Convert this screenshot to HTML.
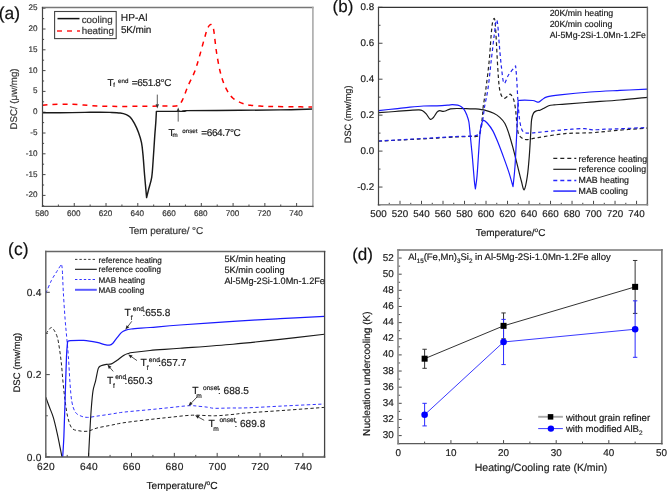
<!DOCTYPE html>
<html><head><meta charset="utf-8"><title>DSC figure</title>
<style>html,body{margin:0;padding:0;background:#fff;}body{width:667px;height:491px;overflow:hidden;font-family:"Liberation Sans", sans-serif;}svg{display:block;filter:blur(0.3px);text-rendering:geometricPrecision;}</style>
</head><body>
<svg width="667" height="491" viewBox="0 0 667 491" font-family='"Liberation Sans", sans-serif'>
<rect width="667" height="491" fill="#fff"/>
<clipPath id="ca"><rect x="42.5" y="7.5" width="270.0" height="199.0"/></clipPath>
<line x1="42.5" y1="206.5" x2="42.5" y2="203" stroke="#333" stroke-width="0.9"/>
<line x1="58.38" y1="206.5" x2="58.38" y2="204.5" stroke="#333" stroke-width="0.9"/>
<line x1="74.26" y1="206.5" x2="74.26" y2="203" stroke="#333" stroke-width="0.9"/>
<line x1="90.15" y1="206.5" x2="90.15" y2="204.5" stroke="#333" stroke-width="0.9"/>
<line x1="106.03" y1="206.5" x2="106.03" y2="203" stroke="#333" stroke-width="0.9"/>
<line x1="121.91" y1="206.5" x2="121.91" y2="204.5" stroke="#333" stroke-width="0.9"/>
<line x1="137.79" y1="206.5" x2="137.79" y2="203" stroke="#333" stroke-width="0.9"/>
<line x1="153.68" y1="206.5" x2="153.68" y2="204.5" stroke="#333" stroke-width="0.9"/>
<line x1="169.56" y1="206.5" x2="169.56" y2="203" stroke="#333" stroke-width="0.9"/>
<line x1="185.44" y1="206.5" x2="185.44" y2="204.5" stroke="#333" stroke-width="0.9"/>
<line x1="201.32" y1="206.5" x2="201.32" y2="203" stroke="#333" stroke-width="0.9"/>
<line x1="217.21" y1="206.5" x2="217.21" y2="204.5" stroke="#333" stroke-width="0.9"/>
<line x1="233.09" y1="206.5" x2="233.09" y2="203" stroke="#333" stroke-width="0.9"/>
<line x1="248.97" y1="206.5" x2="248.97" y2="204.5" stroke="#333" stroke-width="0.9"/>
<line x1="264.85" y1="206.5" x2="264.85" y2="203" stroke="#333" stroke-width="0.9"/>
<line x1="280.74" y1="206.5" x2="280.74" y2="204.5" stroke="#333" stroke-width="0.9"/>
<line x1="296.62" y1="206.5" x2="296.62" y2="203" stroke="#333" stroke-width="0.9"/>
<line x1="312.5" y1="206.5" x2="312.5" y2="204.5" stroke="#333" stroke-width="0.9"/>
<line x1="42.5" y1="205.8" x2="44.1" y2="205.8" stroke="#333" stroke-width="0.9"/>
<line x1="42.5" y1="195.4" x2="45.5" y2="195.4" stroke="#333" stroke-width="0.9"/>
<line x1="42.5" y1="185" x2="44.1" y2="185" stroke="#333" stroke-width="0.9"/>
<line x1="42.5" y1="174.6" x2="45.5" y2="174.6" stroke="#333" stroke-width="0.9"/>
<line x1="42.5" y1="164.2" x2="44.1" y2="164.2" stroke="#333" stroke-width="0.9"/>
<line x1="42.5" y1="153.8" x2="45.5" y2="153.8" stroke="#333" stroke-width="0.9"/>
<line x1="42.5" y1="143.4" x2="44.1" y2="143.4" stroke="#333" stroke-width="0.9"/>
<line x1="42.5" y1="133" x2="45.5" y2="133" stroke="#333" stroke-width="0.9"/>
<line x1="42.5" y1="122.6" x2="44.1" y2="122.6" stroke="#333" stroke-width="0.9"/>
<line x1="42.5" y1="112.2" x2="45.5" y2="112.2" stroke="#333" stroke-width="0.9"/>
<line x1="42.5" y1="101.8" x2="44.1" y2="101.8" stroke="#333" stroke-width="0.9"/>
<line x1="42.5" y1="91.4" x2="45.5" y2="91.4" stroke="#333" stroke-width="0.9"/>
<line x1="42.5" y1="81" x2="44.1" y2="81" stroke="#333" stroke-width="0.9"/>
<line x1="42.5" y1="70.6" x2="45.5" y2="70.6" stroke="#333" stroke-width="0.9"/>
<line x1="42.5" y1="60.2" x2="44.1" y2="60.2" stroke="#333" stroke-width="0.9"/>
<line x1="42.5" y1="49.8" x2="45.5" y2="49.8" stroke="#333" stroke-width="0.9"/>
<line x1="42.5" y1="39.4" x2="44.1" y2="39.4" stroke="#333" stroke-width="0.9"/>
<line x1="42.5" y1="29" x2="45.5" y2="29" stroke="#333" stroke-width="0.9"/>
<line x1="42.5" y1="18.6" x2="44.1" y2="18.6" stroke="#333" stroke-width="0.9"/>
<line x1="42.5" y1="8.2" x2="45.5" y2="8.2" stroke="#333" stroke-width="0.9"/>
<text x="42" y="216.4" font-size="8.1" text-anchor="middle" fill="#333"  stroke="#333" stroke-width="0.18">580</text>
<text x="73.76" y="216.4" font-size="8.1" text-anchor="middle" fill="#333"  stroke="#333" stroke-width="0.18">600</text>
<text x="105.53" y="216.4" font-size="8.1" text-anchor="middle" fill="#333"  stroke="#333" stroke-width="0.18">620</text>
<text x="137.29" y="216.4" font-size="8.1" text-anchor="middle" fill="#333"  stroke="#333" stroke-width="0.18">640</text>
<text x="169.06" y="216.4" font-size="8.1" text-anchor="middle" fill="#333"  stroke="#333" stroke-width="0.18">660</text>
<text x="200.82" y="216.4" font-size="8.1" text-anchor="middle" fill="#333"  stroke="#333" stroke-width="0.18">680</text>
<text x="232.59" y="216.4" font-size="8.1" text-anchor="middle" fill="#333"  stroke="#333" stroke-width="0.18">700</text>
<text x="264.35" y="216.4" font-size="8.1" text-anchor="middle" fill="#333"  stroke="#333" stroke-width="0.18">720</text>
<text x="296.12" y="216.4" font-size="8.1" text-anchor="middle" fill="#333"  stroke="#333" stroke-width="0.18">740</text>
<text x="37.4" y="197.45" font-size="8.1" text-anchor="end" fill="#333"  stroke="#333" stroke-width="0.18">-20</text>
<text x="37.4" y="176.65" font-size="8.1" text-anchor="end" fill="#333"  stroke="#333" stroke-width="0.18">-15</text>
<text x="37.4" y="155.85" font-size="8.1" text-anchor="end" fill="#333"  stroke="#333" stroke-width="0.18">-10</text>
<text x="37.4" y="135.05" font-size="8.1" text-anchor="end" fill="#333"  stroke="#333" stroke-width="0.18">-5</text>
<text x="37.4" y="114.25" font-size="8.1" text-anchor="end" fill="#333"  stroke="#333" stroke-width="0.18">0</text>
<text x="37.4" y="93.45" font-size="8.1" text-anchor="end" fill="#333"  stroke="#333" stroke-width="0.18">5</text>
<text x="37.4" y="72.65" font-size="8.1" text-anchor="end" fill="#333"  stroke="#333" stroke-width="0.18">10</text>
<text x="37.4" y="51.85" font-size="8.1" text-anchor="end" fill="#333"  stroke="#333" stroke-width="0.18">15</text>
<text x="37.4" y="31.05" font-size="8.1" text-anchor="end" fill="#333"  stroke="#333" stroke-width="0.18">20</text>
<text x="37.4" y="10.25" font-size="8.1" text-anchor="end" fill="#333"  stroke="#333" stroke-width="0.18">25</text>
<path d="M42.5,112.8 C45.42,112.8 52.92,112.87 60,112.8 C67.08,112.73 78.33,112.5 85,112.4 C91.67,112.3 95.83,112.2 100,112.2 C104.17,112.2 106.63,112.27 110,112.4 C113.37,112.53 117.48,112.63 120.2,113 C122.92,113.37 124.62,113.88 126.3,114.6 C127.98,115.32 128.95,115.83 130.3,117.3 C131.65,118.77 133.03,120.87 134.4,123.4 C135.77,125.93 137.32,129.28 138.5,132.5 C139.68,135.72 140.75,138.97 141.5,142.7 C142.25,146.43 142.48,149.48 143,154.9 C143.52,160.32 144,168.08 144.6,175.2 C145.2,182.32 146.27,193.87 146.6,197.6 L146.6,197.6 C146.93,196.25 147.75,192.88 148.6,189.5 C149.45,186.12 150.95,182.05 151.7,177.3 C152.45,172.55 152.6,167.78 153.1,161 C153.6,154.22 154.25,143.03 154.7,136.6 C155.15,130.17 155.52,126.6 155.8,122.4 C156.08,118.2 156.3,113.23 156.4,111.4 L156.4,111.4 C161.08,111.37 179.57,111.33 184.5,111.2 C189.43,111.07 176.75,110.75 186,110.6 C195.25,110.45 224.33,110.42 240,110.3 C255.67,110.18 267.92,110.12 280,109.9 C292.08,109.68 307.08,109.15 312.5,109" fill="none" stroke="#1a1a1a" stroke-width="1.45" clip-path="url(#ca)" stroke-linejoin="round" />
<path d="M42.5,105.3 C44.08,105.17 48.42,104.68 52,104.5 C55.58,104.32 60.5,104.25 64,104.2 C67.5,104.15 69.75,104.07 73,104.2 C76.25,104.33 80.25,104.75 83.5,105 C86.75,105.25 89,105.5 92.5,105.7 C96,105.9 99.92,106.08 104.5,106.2 C109.08,106.32 114.08,106.38 120,106.4 C125.92,106.42 133.33,106.35 140,106.3 C146.67,106.25 154,106.15 160,106.1 C166,106.05 172.83,106.27 176,106 C179.17,105.73 177.93,105.47 179,104.5 C180.07,103.53 180.9,103.28 182.4,100.2 C183.9,97.12 186,90.65 188,86 C190,81.35 192.57,76.97 194.4,72.3 C196.23,67.63 197.37,63.5 199,58 C200.63,52.5 202.78,44.22 204.2,39.3 C205.62,34.38 206.48,30.95 207.5,28.5 C208.52,26.05 209.45,25.05 210.3,24.6 C211.15,24.15 211.98,24.57 212.6,25.8 C213.22,27.03 213.37,27.72 214,32 C214.63,36.28 215.4,45 216.4,51.5 C217.4,58 218.73,65.58 220,71 C221.27,76.42 222.57,80.33 224,84 C225.43,87.67 227.1,90.62 228.6,93 C230.1,95.38 231.37,96.87 233,98.3 C234.63,99.73 236.57,100.68 238.4,101.6 C240.23,102.52 241.97,103.18 244,103.8 C246.03,104.42 247.6,104.9 250.6,105.3 C253.6,105.7 257.93,106 262,106.2 C266.07,106.4 269.5,106.4 275,106.5 C280.5,106.6 288.75,106.72 295,106.8 C301.25,106.88 309.58,106.97 312.5,107" fill="none" stroke="#ff0000" stroke-width="1.5" stroke-dasharray="5,5" clip-path="url(#ca)" stroke-linejoin="round" />
<line x1="42.5" y1="7.5" x2="312.9" y2="7.5" stroke="#777" stroke-width="1.3" stroke-linecap="square"/>
<line x1="312.9" y1="7.5" x2="312.9" y2="206.4" stroke="#aaa" stroke-width="1.6" stroke-linecap="square"/>
<line x1="42.5" y1="206.4" x2="312.9" y2="206.4" stroke="#555" stroke-width="1.3" stroke-linecap="square"/>
<line x1="42.5" y1="7.5" x2="42.5" y2="206.4" stroke="#444" stroke-width="1.2" stroke-linecap="square"/>
<rect x="54.6" y="11.5" width="61.6" height="27.1" fill="none" stroke="#444" stroke-width="1.1"/>
<line x1="57.5" y1="18.6" x2="79.5" y2="18.6" stroke="#111" stroke-width="1.5"/>
<line x1="57" y1="31.1" x2="80" y2="31.1" stroke="#ff2020" stroke-width="1.5" stroke-dasharray="5,5"/>
<text x="81.7" y="22.6" font-size="9.8" text-anchor="start" fill="#333"  stroke="#333" stroke-width="0.18">cooling</text>
<text x="81.7" y="33.5" font-size="9.8" text-anchor="start" fill="#333"  stroke="#333" stroke-width="0.18">heating</text>
<text x="120.8" y="20.8" font-size="10.2" text-anchor="start" fill="#222"  stroke="#222" stroke-width="0.18">HP-Al</text>
<text x="120.9" y="32.8" font-size="10" text-anchor="start" fill="#222" letter-spacing="-0.15"  stroke="#222" stroke-width="0.18">5K/min</text>
<text x="107.6" y="85.6" font-size="10" text-anchor="start" fill="#1a1a1a"  stroke="#1a1a1a" stroke-width="0.18">T</text>
<text x="113.2" y="86.8" font-size="6" text-anchor="start" fill="#1a1a1a"  stroke="#1a1a1a" stroke-width="0.18">f</text>
<text x="118" y="82.8" font-size="6.2" text-anchor="start" fill="#1a1a1a"  stroke="#1a1a1a" stroke-width="0.18">end</text>
<text x="131.8" y="85.6" font-size="10" text-anchor="start" fill="#1a1a1a" letter-spacing="-0.35"  stroke="#1a1a1a" stroke-width="0.18">=651.8°C</text>
<line x1="157.3" y1="94.6" x2="157.3" y2="104.3" stroke="#333" stroke-width="0.8"/>
<path d="M157.3,108.5 L155.6,104.3 L159,104.3 Z" fill="#333"/>
<text x="168.4" y="135.9" font-size="10" text-anchor="start" fill="#1a1a1a"  stroke="#1a1a1a" stroke-width="0.18">T</text>
<text x="172.6" y="137.4" font-size="6.2" text-anchor="start" fill="#1a1a1a"  stroke="#1a1a1a" stroke-width="0.18">m</text>
<text x="182.3" y="132.6" font-size="6.2" text-anchor="start" fill="#1a1a1a"  stroke="#1a1a1a" stroke-width="0.18">onset</text>
<text x="201.2" y="135.9" font-size="10" text-anchor="start" fill="#1a1a1a" letter-spacing="-0.35"  stroke="#1a1a1a" stroke-width="0.18">=664.7°C</text>
<line x1="178.2" y1="121.6" x2="178.2" y2="111.6" stroke="#333" stroke-width="0.8"/>
<path d="M178.2,107.4 L179.9,111.6 L176.5,111.6 Z" fill="#333"/>
<text x="-1.2" y="19.2" font-size="17.4" text-anchor="start" fill="#111"  stroke="#111" stroke-width="0.18">(a)</text>
<text transform="translate(16.6,99) rotate(-90)" font-size="9.7" text-anchor="middle" fill="#333" stroke="#333" stroke-width="0.18">DSC/ (μw/mg)</text>
<text x="166" y="234.1" font-size="10" text-anchor="middle" fill="#333" letter-spacing="-0.1"  stroke="#333" stroke-width="0.18">Tem perature/ °C</text>
<clipPath id="cb"><rect x="378.5" y="7.4" width="268.79999999999995" height="197.4"/></clipPath>
<line x1="378.5" y1="204.8" x2="378.5" y2="200.8" stroke="#333" stroke-width="0.9"/>
<line x1="389.25" y1="204.8" x2="389.25" y2="202.8" stroke="#333" stroke-width="0.9"/>
<line x1="400" y1="204.8" x2="400" y2="200.8" stroke="#333" stroke-width="0.9"/>
<line x1="410.76" y1="204.8" x2="410.76" y2="202.8" stroke="#333" stroke-width="0.9"/>
<line x1="421.51" y1="204.8" x2="421.51" y2="200.8" stroke="#333" stroke-width="0.9"/>
<line x1="432.26" y1="204.8" x2="432.26" y2="202.8" stroke="#333" stroke-width="0.9"/>
<line x1="443.01" y1="204.8" x2="443.01" y2="200.8" stroke="#333" stroke-width="0.9"/>
<line x1="453.76" y1="204.8" x2="453.76" y2="202.8" stroke="#333" stroke-width="0.9"/>
<line x1="464.52" y1="204.8" x2="464.52" y2="200.8" stroke="#333" stroke-width="0.9"/>
<line x1="475.27" y1="204.8" x2="475.27" y2="202.8" stroke="#333" stroke-width="0.9"/>
<line x1="486.02" y1="204.8" x2="486.02" y2="200.8" stroke="#333" stroke-width="0.9"/>
<line x1="496.77" y1="204.8" x2="496.77" y2="202.8" stroke="#333" stroke-width="0.9"/>
<line x1="507.52" y1="204.8" x2="507.52" y2="200.8" stroke="#333" stroke-width="0.9"/>
<line x1="518.28" y1="204.8" x2="518.28" y2="202.8" stroke="#333" stroke-width="0.9"/>
<line x1="529.03" y1="204.8" x2="529.03" y2="200.8" stroke="#333" stroke-width="0.9"/>
<line x1="539.78" y1="204.8" x2="539.78" y2="202.8" stroke="#333" stroke-width="0.9"/>
<line x1="550.53" y1="204.8" x2="550.53" y2="200.8" stroke="#333" stroke-width="0.9"/>
<line x1="561.28" y1="204.8" x2="561.28" y2="202.8" stroke="#333" stroke-width="0.9"/>
<line x1="572.04" y1="204.8" x2="572.04" y2="200.8" stroke="#333" stroke-width="0.9"/>
<line x1="582.79" y1="204.8" x2="582.79" y2="202.8" stroke="#333" stroke-width="0.9"/>
<line x1="593.54" y1="204.8" x2="593.54" y2="200.8" stroke="#333" stroke-width="0.9"/>
<line x1="604.29" y1="204.8" x2="604.29" y2="202.8" stroke="#333" stroke-width="0.9"/>
<line x1="615.04" y1="204.8" x2="615.04" y2="200.8" stroke="#333" stroke-width="0.9"/>
<line x1="625.8" y1="204.8" x2="625.8" y2="202.8" stroke="#333" stroke-width="0.9"/>
<line x1="636.55" y1="204.8" x2="636.55" y2="200.8" stroke="#333" stroke-width="0.9"/>
<line x1="647.3" y1="204.8" x2="647.3" y2="202.8" stroke="#333" stroke-width="0.9"/>
<line x1="378.5" y1="205.03" x2="380.5" y2="205.03" stroke="#333" stroke-width="0.9"/>
<line x1="378.5" y1="187.05" x2="382.5" y2="187.05" stroke="#333" stroke-width="0.9"/>
<line x1="378.5" y1="169.07" x2="380.5" y2="169.07" stroke="#333" stroke-width="0.9"/>
<line x1="378.5" y1="151.1" x2="382.5" y2="151.1" stroke="#333" stroke-width="0.9"/>
<line x1="378.5" y1="133.12" x2="380.5" y2="133.12" stroke="#333" stroke-width="0.9"/>
<line x1="378.5" y1="115.15" x2="382.5" y2="115.15" stroke="#333" stroke-width="0.9"/>
<line x1="378.5" y1="97.17" x2="380.5" y2="97.17" stroke="#333" stroke-width="0.9"/>
<line x1="378.5" y1="79.2" x2="382.5" y2="79.2" stroke="#333" stroke-width="0.9"/>
<line x1="378.5" y1="61.22" x2="380.5" y2="61.22" stroke="#333" stroke-width="0.9"/>
<line x1="378.5" y1="43.25" x2="382.5" y2="43.25" stroke="#333" stroke-width="0.9"/>
<line x1="378.5" y1="25.27" x2="380.5" y2="25.27" stroke="#333" stroke-width="0.9"/>
<line x1="378.5" y1="7.3" x2="382.5" y2="7.3" stroke="#333" stroke-width="0.9"/>
<text x="378.5" y="217" font-size="9.8" text-anchor="middle" fill="#1a1a1a"  stroke="#1a1a1a" stroke-width="0.18">500</text>
<text x="400" y="217" font-size="9.8" text-anchor="middle" fill="#1a1a1a"  stroke="#1a1a1a" stroke-width="0.18">520</text>
<text x="421.51" y="217" font-size="9.8" text-anchor="middle" fill="#1a1a1a"  stroke="#1a1a1a" stroke-width="0.18">540</text>
<text x="443.01" y="217" font-size="9.8" text-anchor="middle" fill="#1a1a1a"  stroke="#1a1a1a" stroke-width="0.18">560</text>
<text x="464.52" y="217" font-size="9.8" text-anchor="middle" fill="#1a1a1a"  stroke="#1a1a1a" stroke-width="0.18">580</text>
<text x="486.02" y="217" font-size="9.8" text-anchor="middle" fill="#1a1a1a"  stroke="#1a1a1a" stroke-width="0.18">600</text>
<text x="507.52" y="217" font-size="9.8" text-anchor="middle" fill="#1a1a1a"  stroke="#1a1a1a" stroke-width="0.18">620</text>
<text x="529.03" y="217" font-size="9.8" text-anchor="middle" fill="#1a1a1a"  stroke="#1a1a1a" stroke-width="0.18">640</text>
<text x="550.53" y="217" font-size="9.8" text-anchor="middle" fill="#1a1a1a"  stroke="#1a1a1a" stroke-width="0.18">660</text>
<text x="572.04" y="217" font-size="9.8" text-anchor="middle" fill="#1a1a1a"  stroke="#1a1a1a" stroke-width="0.18">680</text>
<text x="593.54" y="217" font-size="9.8" text-anchor="middle" fill="#1a1a1a"  stroke="#1a1a1a" stroke-width="0.18">700</text>
<text x="615.04" y="217" font-size="9.8" text-anchor="middle" fill="#1a1a1a"  stroke="#1a1a1a" stroke-width="0.18">720</text>
<text x="636.55" y="217" font-size="9.8" text-anchor="middle" fill="#1a1a1a"  stroke="#1a1a1a" stroke-width="0.18">740</text>
<text x="374.2" y="9.95" font-size="9.8" text-anchor="end" fill="#1a1a1a"  stroke="#1a1a1a" stroke-width="0.18">0.8</text>
<text x="374.2" y="45.9" font-size="9.8" text-anchor="end" fill="#1a1a1a"  stroke="#1a1a1a" stroke-width="0.18">0.6</text>
<text x="374.2" y="81.85" font-size="9.8" text-anchor="end" fill="#1a1a1a"  stroke="#1a1a1a" stroke-width="0.18">0.4</text>
<text x="374.2" y="117.8" font-size="9.8" text-anchor="end" fill="#1a1a1a"  stroke="#1a1a1a" stroke-width="0.18">0.2</text>
<text x="374.2" y="153.75" font-size="9.8" text-anchor="end" fill="#1a1a1a"  stroke="#1a1a1a" stroke-width="0.18">0.0</text>
<text x="374.2" y="189.7" font-size="9.8" text-anchor="end" fill="#1a1a1a"  stroke="#1a1a1a" stroke-width="0.18">-0.2</text>
<path d="M378.5,141.2 C382.08,141 391.83,140.43 400,140 C408.17,139.57 418.33,139.1 427.5,138.6 C436.67,138.1 447.92,137.37 455,137 C462.08,136.63 466.27,136.53 470,136.4 C473.73,136.27 475.67,137 477.4,136.2 C479.13,135.4 479.55,135.07 480.4,131.6 C481.25,128.13 482.05,119.4 482.5,115.4 C482.95,111.4 482.5,112.3 483.1,107.6 C483.7,102.9 485.08,95 486.1,87.2 C487.12,79.4 488.35,69.6 489.2,60.8 C490.05,52 490.63,40.83 491.2,34.4 C491.77,27.97 492.08,24.85 492.6,22.2 C493.12,19.55 493.85,18.17 494.3,18.5 C494.75,18.83 494.97,20.53 495.3,24.2 C495.63,27.87 495.9,33.38 496.3,40.5 C496.7,47.62 497.2,59.12 497.7,66.9 C498.2,74.68 498.68,82.45 499.3,87.2 C499.92,91.95 500.55,93.53 501.4,95.4 C502.25,97.27 503.22,98.4 504.4,98.4 C505.58,98.4 507.48,96.08 508.5,95.4 C509.52,94.72 509.65,93.63 510.5,94.3 C511.35,94.97 512.75,96.82 513.6,99.4 C514.45,101.98 515.12,106.42 515.6,109.8 C516.08,113.18 516.07,115.83 516.5,119.7 C516.93,123.57 517.25,129.9 518.2,133 C519.15,136.1 520.65,137.2 522.2,138.3 C523.75,139.4 524.85,139.72 527.5,139.6 C530.15,139.48 531.85,138.6 538.1,137.6 C544.35,136.6 555.92,134.42 565,133.6 C574.08,132.78 583.93,133.25 592.6,132.7 C601.27,132.15 608.32,131.03 617,130.3 C625.68,129.57 639.65,128.67 644.7,128.3 C649.75,127.93 646.87,128.13 647.3,128.1" fill="none" stroke="#222" stroke-width="1.2" stroke-dasharray="3.6,2.8" clip-path="url(#cb)" stroke-linejoin="round" />
<path d="M378.5,112.7 C381.25,112.5 389.75,111.9 395,111.5 C400.25,111.1 406,110.58 410,110.3 C414,110.02 416.9,109.73 419,109.8 C421.1,109.87 421.4,110.02 422.6,110.7 C423.8,111.38 424.93,112.47 426.2,113.9 C427.47,115.33 429,118.7 430.2,119.3 C431.4,119.9 432.27,118.7 433.4,117.5 C434.53,116.3 435.95,113.23 437,112.1 C438.05,110.97 438.65,110.82 439.7,110.7 C440.75,110.58 442.25,111.4 443.3,111.4 C444.35,111.4 444.8,111.12 446,110.7 C447.2,110.28 448.7,109.27 450.5,108.9 C452.3,108.53 453.55,108.52 456.8,108.5 C460.05,108.48 466.9,108.73 470,108.8 C473.1,108.87 472.82,108.65 475.4,108.9 C477.98,109.15 482.45,109.57 485.5,110.3 C488.55,111.03 491.32,112.12 493.7,113.3 C496.08,114.48 497.93,115.7 499.8,117.4 C501.67,119.1 503.38,120.78 504.9,123.5 C506.42,126.22 507.55,129.63 508.9,133.7 C510.25,137.77 511.63,142.82 513,147.9 C514.37,152.98 515.73,158.77 517.1,164.2 C518.47,169.63 520.02,176.25 521.2,180.5 C522.38,184.75 523.18,190.38 524.2,189.7 C525.22,189.02 526.45,182 527.3,176.4 C528.15,170.8 528.72,163.57 529.3,156.1 C529.88,148.63 530.42,137.67 530.8,131.6 C531.18,125.53 531.15,122.78 531.6,119.7 C532.05,116.62 532.63,114.6 533.5,113.1 C534.37,111.6 535.7,111.18 536.8,110.7 C537.9,110.22 539,110.57 540.1,110.2 C541.2,109.83 541.97,109.23 543.4,108.5 C544.83,107.77 546.93,106.4 548.7,105.8 C550.47,105.2 551.28,105.18 554,104.9 C556.72,104.62 559,104.55 565,104.1 C571,103.65 580.83,102.88 590,102.2 C599.17,101.52 610.45,100.8 620,100 C629.55,99.2 642.75,97.83 647.3,97.4" fill="none" stroke="#1a1a1a" stroke-width="1.2" clip-path="url(#cb)" stroke-linejoin="round" />
<path d="M378.5,141 C382.08,140.8 391.83,140.27 400,139.8 C408.17,139.33 418.33,138.73 427.5,138.2 C436.67,137.67 447.85,136.93 455,136.6 C462.15,136.27 466.45,136.55 470.4,136.2 C474.35,135.85 477.02,135.45 478.7,134.5 C480.38,133.55 479.87,132.67 480.5,130.5 C481.13,128.33 481.83,125.38 482.5,121.5 C483.17,117.62 484.07,110.12 484.5,107.2 C484.93,104.28 484.48,107.33 485.1,104 C485.72,100.67 487.18,94.4 488.2,87.2 C489.22,80 490.18,69.6 491.2,60.8 C492.22,52 493.52,40.83 494.3,34.4 C495.08,27.97 495.47,24.57 495.9,22.2 C496.33,19.83 496.57,19.52 496.9,20.2 C497.23,20.88 497.5,22.23 497.9,26.3 C498.3,30.37 498.72,37.83 499.3,44.6 C499.88,51.37 500.62,60.47 501.4,66.9 C502.18,73.33 502.82,81.85 504,83.2 C505.18,84.55 506.57,77.88 508.5,75 C510.43,72.12 514.42,67.42 515.6,65.9 L515.6,65.9 C515.77,67.77 516.27,72.18 516.6,77.1 C516.93,82.02 517.3,90.32 517.6,95.4 C517.9,100.48 518.07,103.55 518.4,107.6 C518.73,111.65 519.07,116.13 519.6,119.7 C520.13,123.27 520.72,126.83 521.6,129 C522.48,131.17 523.25,132.03 524.9,132.7 C526.55,133.37 528.2,133.17 531.5,133 C534.8,132.83 539.12,132.25 544.7,131.7 C550.28,131.15 560.45,130.12 565,129.7 C569.55,129.28 568.77,129.38 572,129.2 C575.23,129.02 580.97,128.5 584.4,128.6 C587.83,128.7 589.17,129.7 592.6,129.8 C596.03,129.9 600.93,129.35 605,129.2 C609.07,129.05 612.83,129.05 617,128.9 C621.17,128.75 625.93,128.48 630,128.3 C634.07,128.12 638.52,127.92 641.4,127.8 C644.28,127.68 646.32,127.63 647.3,127.6" fill="none" stroke="#2222ee" stroke-width="1.2" stroke-dasharray="3.6,2.8" clip-path="url(#cb)" stroke-linejoin="round" />
<path d="M378.5,110.6 C381.25,110.3 389.75,109.38 395,108.8 C400.25,108.22 405.25,107.57 410,107.1 C414.75,106.63 419,106.22 423.5,106 C428,105.78 432.95,105.93 437,105.8 C441.05,105.67 445.25,105.38 447.8,105.2 C450.35,105.02 450.65,104.7 452.3,104.7 C453.95,104.7 456.2,104.87 457.7,105.2 C459.2,105.53 460.25,106 461.3,106.7 C462.35,107.4 463.1,108.05 464,109.4 C464.9,110.75 465.88,112.7 466.7,114.8 C467.52,116.9 468.3,118.52 468.9,122 C469.5,125.48 469.73,130.02 470.3,135.7 C470.87,141.38 471.63,148.63 472.3,156.1 C472.97,163.57 473.78,175.02 474.3,180.5 C474.82,185.98 475.22,187.58 475.4,189 L475.4,189 C475.67,186.9 476.5,181.9 477,176.4 C477.5,170.9 477.93,162.78 478.4,156 C478.87,149.22 479.35,140.78 479.8,135.7 C480.25,130.62 480.48,128.05 481.1,125.5 C481.72,122.95 482.42,120.73 483.5,120.4 C484.58,120.07 486.07,121.8 487.6,123.5 C489.13,125.2 491.02,127.55 492.7,130.6 C494.38,133.65 495.83,137.22 497.7,141.8 C499.57,146.38 502.03,153 503.9,158.1 C505.77,163.2 507.38,167.65 508.9,172.4 C510.42,177.15 512.32,184.23 513,186.6 L513,186.6 C513.33,183.2 514.32,176.38 515,166.2 C515.68,156.02 516.58,136.35 517.1,125.5 C517.62,114.65 517.93,105.17 518.1,101.1 L518.1,101.1 C518.43,100.97 517.67,100.4 520.1,100.3 C522.53,100.2 530.05,100.3 532.7,100.5 C535.35,100.7 535.05,101.22 536,101.5 C536.95,101.78 537.4,102.48 538.4,102.2 C539.4,101.92 540.57,100.7 542,99.8 C543.43,98.9 544,97.63 547,96.8 C550,95.97 552.83,95.6 560,94.8 C567.17,94 580,92.73 590,92 C600,91.27 610.45,90.87 620,90.4 C629.55,89.93 642.75,89.4 647.3,89.2" fill="none" stroke="#1a1aff" stroke-width="1.2" clip-path="url(#cb)" stroke-linejoin="round" />
<line x1="378.5" y1="7.45" x2="647.4" y2="7.45" stroke="#333" stroke-width="1.2" stroke-linecap="square"/>
<line x1="647.4" y1="7.45" x2="647.4" y2="204.8" stroke="#666" stroke-width="1.4" stroke-linecap="square"/>
<line x1="378.5" y1="204.8" x2="647.4" y2="204.8" stroke="#888" stroke-width="1.6" stroke-linecap="square"/>
<line x1="378.5" y1="7.45" x2="378.5" y2="204.8" stroke="#444" stroke-width="1.2" stroke-linecap="square"/>
<text x="549.7" y="16.3" font-size="8.8" text-anchor="start" fill="#1a1a1a"  stroke="#1a1a1a" stroke-width="0.18">20K/min heating</text>
<text x="549.7" y="27.2" font-size="8.8" text-anchor="start" fill="#1a1a1a"  stroke="#1a1a1a" stroke-width="0.18">20K/min cooling</text>
<text x="549.7" y="37.7" font-size="8.8" text-anchor="start" fill="#1a1a1a"  stroke="#1a1a1a" stroke-width="0.18">Al-5Mg-2Si-1.0Mn-1.2Fe</text>
<line x1="553.3" y1="158.4" x2="576.3" y2="158.4" stroke="#222" stroke-width="1.15" stroke-dasharray="4,3"/>
<line x1="553.3" y1="169.3" x2="576.3" y2="169.3" stroke="#1a1a1a" stroke-width="1.15"/>
<line x1="553.3" y1="180.5" x2="576.3" y2="180.5" stroke="#2828ff" stroke-width="1.3" stroke-dasharray="4,3"/>
<line x1="553.3" y1="191.1" x2="576.3" y2="191.1" stroke="#4b4bff" stroke-width="1.8"/>
<text x="578.6" y="161.5" font-size="8.8" text-anchor="start" fill="#1a1a1a"  stroke="#1a1a1a" stroke-width="0.18">reference heating</text>
<text x="578.6" y="172.3" font-size="8.8" text-anchor="start" fill="#1a1a1a"  stroke="#1a1a1a" stroke-width="0.18">reference cooling</text>
<text x="578.6" y="182.9" font-size="8.8" text-anchor="start" fill="#1a1a1a"  stroke="#1a1a1a" stroke-width="0.18">MAB heating</text>
<text x="578.6" y="193.5" font-size="8.8" text-anchor="start" fill="#1a1a1a"  stroke="#1a1a1a" stroke-width="0.18">MAB cooling</text>
<text x="332.6" y="12.1" font-size="17" text-anchor="start" fill="#111"  stroke="#111" stroke-width="0.18">(b)</text>
<text transform="translate(350.6,114.3) rotate(-90)" font-size="9.2" text-anchor="middle" fill="#1a1a1a" stroke="#1a1a1a" stroke-width="0.18">DSC (mw/mg)</text>
<text x="475.7" y="235.8" font-size="10" fill="#1a1a1a" stroke="#1a1a1a" stroke-width="0.18">Temperature/<tspan font-size="6.5" dy="-4.2">o</tspan><tspan dy="4.2">C</tspan></text>
<clipPath id="cc"><rect x="45.8" y="252" width="278.5" height="204.89999999999998"/></clipPath>
<line x1="45.8" y1="456.9" x2="45.8" y2="452.9" stroke="#333" stroke-width="0.9"/>
<line x1="67.22" y1="456.9" x2="67.22" y2="454.9" stroke="#333" stroke-width="0.9"/>
<line x1="88.65" y1="456.9" x2="88.65" y2="452.9" stroke="#333" stroke-width="0.9"/>
<line x1="110.07" y1="456.9" x2="110.07" y2="454.9" stroke="#333" stroke-width="0.9"/>
<line x1="131.49" y1="456.9" x2="131.49" y2="452.9" stroke="#333" stroke-width="0.9"/>
<line x1="152.92" y1="456.9" x2="152.92" y2="454.9" stroke="#333" stroke-width="0.9"/>
<line x1="174.34" y1="456.9" x2="174.34" y2="452.9" stroke="#333" stroke-width="0.9"/>
<line x1="195.76" y1="456.9" x2="195.76" y2="454.9" stroke="#333" stroke-width="0.9"/>
<line x1="217.18" y1="456.9" x2="217.18" y2="452.9" stroke="#333" stroke-width="0.9"/>
<line x1="238.61" y1="456.9" x2="238.61" y2="454.9" stroke="#333" stroke-width="0.9"/>
<line x1="260.03" y1="456.9" x2="260.03" y2="452.9" stroke="#333" stroke-width="0.9"/>
<line x1="281.45" y1="456.9" x2="281.45" y2="454.9" stroke="#333" stroke-width="0.9"/>
<line x1="302.88" y1="456.9" x2="302.88" y2="452.9" stroke="#333" stroke-width="0.9"/>
<line x1="324.3" y1="456.9" x2="324.3" y2="454.9" stroke="#333" stroke-width="0.9"/>
<line x1="45.8" y1="456.9" x2="49.8" y2="456.9" stroke="#333" stroke-width="0.9"/>
<line x1="45.8" y1="415.75" x2="47.8" y2="415.75" stroke="#333" stroke-width="0.9"/>
<line x1="45.8" y1="374.6" x2="49.8" y2="374.6" stroke="#333" stroke-width="0.9"/>
<line x1="45.8" y1="333.45" x2="47.8" y2="333.45" stroke="#333" stroke-width="0.9"/>
<line x1="45.8" y1="292.3" x2="49.8" y2="292.3" stroke="#333" stroke-width="0.9"/>
<text x="46.1" y="470.1" font-size="10.2" text-anchor="middle" fill="#1a1a1a" letter-spacing="0.35"  stroke="#1a1a1a" stroke-width="0.18">620</text>
<text x="88.95" y="470.1" font-size="10.2" text-anchor="middle" fill="#1a1a1a" letter-spacing="0.35"  stroke="#1a1a1a" stroke-width="0.18">640</text>
<text x="131.79" y="470.1" font-size="10.2" text-anchor="middle" fill="#1a1a1a" letter-spacing="0.35"  stroke="#1a1a1a" stroke-width="0.18">660</text>
<text x="174.64" y="470.1" font-size="10.2" text-anchor="middle" fill="#1a1a1a" letter-spacing="0.35"  stroke="#1a1a1a" stroke-width="0.18">680</text>
<text x="217.48" y="470.1" font-size="10.2" text-anchor="middle" fill="#1a1a1a" letter-spacing="0.35"  stroke="#1a1a1a" stroke-width="0.18">700</text>
<text x="260.33" y="470.1" font-size="10.2" text-anchor="middle" fill="#1a1a1a" letter-spacing="0.35"  stroke="#1a1a1a" stroke-width="0.18">720</text>
<text x="303.18" y="470.1" font-size="10.2" text-anchor="middle" fill="#1a1a1a" letter-spacing="0.35"  stroke="#1a1a1a" stroke-width="0.18">740</text>
<text x="41.8" y="460.6" font-size="10.2" text-anchor="end" fill="#222" letter-spacing="0.3"  stroke="#222" stroke-width="0.18">0.0</text>
<text x="41.8" y="378.3" font-size="10.2" text-anchor="end" fill="#222" letter-spacing="0.3"  stroke="#222" stroke-width="0.18">0.2</text>
<text x="41.8" y="296" font-size="10.2" text-anchor="end" fill="#222" letter-spacing="0.3"  stroke="#222" stroke-width="0.18">0.4</text>
<path d="M45.8,333.9 C46.27,333.28 47.68,331.27 48.6,330.2 C49.52,329.13 50.38,327.5 51.3,327.5 C52.22,327.5 53.18,328.83 54.1,330.2 C55.02,331.57 56.05,333.53 56.8,335.7 C57.55,337.87 57.87,338.85 58.6,343.2 C59.33,347.55 60.45,355.17 61.2,361.8 C61.95,368.43 62.43,376.38 63.1,383 C63.77,389.62 64.42,395.77 65.2,401.5 C65.98,407.23 66.7,412.98 67.8,417.4 C68.9,421.82 70.03,425.78 71.8,428 C73.57,430.22 75.75,430.17 78.4,430.7 C81.05,431.23 84.6,431.65 87.7,431.2 C90.8,430.75 93.25,428.97 97,428 C100.75,427.03 105.7,426.28 110.2,425.4 C114.7,424.52 117.12,423.72 124,422.7 C130.88,421.68 143.83,420.2 151.5,419.3 C159.17,418.4 163.18,417.98 170,417.3 C176.82,416.62 184.98,415.45 192.4,415.2 C199.82,414.95 207.73,415.93 214.5,415.8 C221.27,415.67 227.75,414.87 233,414.4 C238.25,413.93 237.33,413.68 246,413 C254.67,412.32 271.95,411.23 285,410.3 C298.05,409.37 317.75,407.88 324.3,407.4" fill="none" stroke="#222" stroke-width="1.0" stroke-dasharray="3.3,2.4" clip-path="url(#cc)" stroke-linejoin="round" />
<path d="M45.8,293.5 C46.72,291.37 49.47,284.37 51.3,280.7 C53.13,277.03 55.12,274.25 56.8,271.5 C58.48,268.75 60.63,265.42 61.4,264.2 L61.4,264.2 C61.55,265.12 61.98,265.12 62.3,269.7 C62.62,274.28 62.83,283.45 63.3,291.7 C63.77,299.95 64.5,311.25 65.1,319.2 C65.7,327.15 66.35,333.18 66.9,339.4 C67.45,345.62 67.88,349.23 68.4,356.5 C68.92,363.77 69.43,375.5 70,383 C70.57,390.5 70.92,396.65 71.8,401.5 C72.68,406.35 73.75,409.67 75.3,412.1 C76.85,414.53 79.03,415.22 81.1,416.1 C83.17,416.98 85.05,417.4 87.7,417.4 C90.35,417.4 93.25,416.63 97,416.1 C100.75,415.57 105.7,414.87 110.2,414.2 C114.7,413.53 117.12,412.88 124,412.1 C130.88,411.32 143.83,410.25 151.5,409.5 C159.17,408.75 163.7,408.23 170,407.6 C176.3,406.97 184.3,405.9 189.3,405.7 C194.3,405.5 196.85,406.13 200,406.4 C203.15,406.67 205.78,406.98 208.2,407.3 C210.62,407.62 210.87,408.18 214.5,408.3 C218.13,408.42 224.42,408.08 230,408 C235.58,407.92 238.83,408.15 248,407.8 C257.17,407.45 272.28,406.53 285,405.9 C297.72,405.27 317.75,404.32 324.3,404" fill="none" stroke="#3333ff" stroke-width="1.0" stroke-dasharray="3.3,2.4" clip-path="url(#cc)" stroke-linejoin="round" />
<path d="M45.8,397.3 C46.38,398.88 48.05,403.45 49.3,406.8 C50.55,410.15 51.98,412.98 53.3,417.4 C54.62,421.82 56.1,428.43 57.2,433.3 C58.3,438.17 59.1,442.62 59.9,446.6 C60.7,450.58 61.4,453.97 62,457.2 C62.6,460.43 63.25,464.53 63.5,466" fill="none" stroke="#1a1a1a" stroke-width="1.15" clip-path="url(#cc)" stroke-linejoin="round" />
<path d="M87.8,466 C87.92,464.53 88.2,462.2 88.5,457.2 C88.8,452.2 89.15,443.95 89.6,436 C90.05,428.05 90.63,417.02 91.2,409.5 C91.77,401.98 92.25,395.77 93,390.9 C93.75,386.03 94.82,384.05 95.7,380.3 C96.58,376.55 97.42,370.82 98.3,368.4 C99.18,365.98 99.67,366.47 101,365.8 C102.33,365.13 104.55,364.72 106.3,364.4 C108.05,364.08 109.75,364.55 111.5,363.9 C113.25,363.25 114.72,361.95 116.8,360.5 C118.88,359.05 122.1,356.37 124,355.2 C125.9,354.03 126.8,353.95 128.2,353.5 C129.6,353.05 128.77,353 132.4,352.5 C136.03,352 142.07,351.2 150,350.5 C157.93,349.8 166.17,349.35 180,348.3 C193.83,347.25 216.33,345.68 233,344.2 C249.67,342.72 264.78,341.07 280,339.4 C295.22,337.73 316.92,335.07 324.3,334.2" fill="none" stroke="#1a1a1a" stroke-width="1.15" clip-path="url(#cc)" stroke-linejoin="round" />
<path d="M62.2,466 C62.25,465 62.22,465 62.5,460 C62.78,455 63.45,446.63 63.9,436 C64.35,425.37 64.77,409.45 65.2,396.2 C65.63,382.95 66.1,365.6 66.5,356.5 C66.9,347.4 67.42,344.08 67.6,341.6 L67.6,341.6 C68.08,341.43 67.82,340.8 70.5,340.6 C73.18,340.4 79.28,340.1 83.7,340.4 C88.12,340.7 93.48,341.7 97,342.4 C100.52,343.1 102.72,344.15 104.8,344.6 C106.88,345.05 108.15,345.33 109.5,345.1 C110.85,344.87 111.88,344.12 112.9,343.2 C113.92,342.28 114.72,340.73 115.6,339.6 C116.48,338.47 117.2,337.6 118.2,336.4 C119.2,335.2 120.43,333.42 121.6,332.4 C122.77,331.38 123.6,330.87 125.2,330.3 C126.8,329.73 127.07,329.47 131.2,329 C135.33,328.53 141.87,328.17 150,327.5 C158.13,326.83 166.17,326.02 180,325 C193.83,323.98 216.33,322.47 233,321.4 C249.67,320.33 264.78,319.45 280,318.6 C295.22,317.75 316.92,316.68 324.3,316.3" fill="none" stroke="#1a1aff" stroke-width="1.25" clip-path="url(#cc)" stroke-linejoin="round" />
<line x1="45.8" y1="251.6" x2="324.6" y2="251.6" stroke="#666" stroke-width="1.5" stroke-linecap="square"/>
<line x1="324.6" y1="251.6" x2="324.6" y2="457" stroke="#444" stroke-width="1.3" stroke-linecap="square"/>
<line x1="45.8" y1="457" x2="324.6" y2="457" stroke="#555" stroke-width="1.4" stroke-linecap="square"/>
<line x1="45.8" y1="251.6" x2="45.8" y2="457" stroke="#666" stroke-width="1.5" stroke-linecap="square"/>
<line x1="75" y1="259.4" x2="96.8" y2="259.4" stroke="#222" stroke-width="0.9" stroke-dasharray="2.4,2"/>
<line x1="75" y1="269.3" x2="96.8" y2="269.3" stroke="#111" stroke-width="1.1"/>
<line x1="75" y1="279.5" x2="96.8" y2="279.5" stroke="#3333ff" stroke-width="1" stroke-dasharray="2.4,2"/>
<line x1="75" y1="289.8" x2="96.8" y2="289.8" stroke="#5a5aff" stroke-width="2.0"/>
<text x="98.6" y="262.5" font-size="8.15" text-anchor="start" fill="#1a1a1a"  stroke="#1a1a1a" stroke-width="0.18">reference heating</text>
<text x="98.6" y="272.4" font-size="8.15" text-anchor="start" fill="#1a1a1a"  stroke="#1a1a1a" stroke-width="0.18">reference cooling</text>
<text x="98.6" y="282.6" font-size="8.15" text-anchor="start" fill="#1a1a1a"  stroke="#1a1a1a" stroke-width="0.18">MAB heating</text>
<text x="98.6" y="292.7" font-size="8.15" text-anchor="start" fill="#1a1a1a"  stroke="#1a1a1a" stroke-width="0.18">MAB cooling</text>
<text x="224.4" y="261.5" font-size="9.2" text-anchor="start" fill="#1a1a1a"  stroke="#1a1a1a" stroke-width="0.18">5K/min heating</text>
<text x="224.4" y="272.7" font-size="9.2" text-anchor="start" fill="#1a1a1a"  stroke="#1a1a1a" stroke-width="0.18">5K/min cooling</text>
<text x="224.4" y="284.3" font-size="9.2" text-anchor="start" fill="#1a1a1a"  stroke="#1a1a1a" stroke-width="0.18">Al-5Mg-2Si-1.0Mn-1.2Fe</text>
<text x="124.6" y="315.7" font-size="10.3" text-anchor="start" fill="#1a1a1a"  stroke="#1a1a1a" stroke-width="0.18">T</text>
<text x="130.7" y="319.6" font-size="6.6" text-anchor="start" fill="#1a1a1a"  stroke="#1a1a1a" stroke-width="0.18">f</text>
<text x="132.8" y="311.1" font-size="6.6" text-anchor="start" fill="#1a1a1a"  stroke="#1a1a1a" stroke-width="0.18">end</text>
<text x="142.4" y="315.7" font-size="10.1" text-anchor="start" fill="#1a1a1a"  stroke="#1a1a1a" stroke-width="0.18">:655.8</text>
<line x1="131.8" y1="321.3" x2="127.96" y2="326.27" stroke="#222" stroke-width="0.8"/>
<path d="M125.4,329.6 L126.62,325.24 L129.31,327.31 Z" fill="#222"/>
<text x="140.6" y="366.3" font-size="10.3" text-anchor="start" fill="#1a1a1a"  stroke="#1a1a1a" stroke-width="0.18">T</text>
<text x="146.7" y="370.2" font-size="6.6" text-anchor="start" fill="#1a1a1a"  stroke="#1a1a1a" stroke-width="0.18">f</text>
<text x="148.8" y="361.7" font-size="6.6" text-anchor="start" fill="#1a1a1a"  stroke="#1a1a1a" stroke-width="0.18">end</text>
<text x="158.2" y="366.3" font-size="10.1" text-anchor="start" fill="#1a1a1a"  stroke="#1a1a1a" stroke-width="0.18">:657.7</text>
<line x1="137" y1="360.6" x2="131.63" y2="356.82" stroke="#222" stroke-width="0.8"/>
<path d="M128.2,354.4 L132.61,355.43 L130.65,358.21 Z" fill="#222"/>
<text x="107" y="383.6" font-size="10.3" text-anchor="start" fill="#1a1a1a"  stroke="#1a1a1a" stroke-width="0.18">T</text>
<text x="113.1" y="387.5" font-size="6.6" text-anchor="start" fill="#1a1a1a"  stroke="#1a1a1a" stroke-width="0.18">f</text>
<text x="115.2" y="379" font-size="6.6" text-anchor="start" fill="#1a1a1a"  stroke="#1a1a1a" stroke-width="0.18">end</text>
<text x="124.6" y="383.6" font-size="10.1" text-anchor="start" fill="#1a1a1a"  stroke="#1a1a1a" stroke-width="0.18">:650.3</text>
<line x1="113.2" y1="371.4" x2="110.13" y2="367.8" stroke="#222" stroke-width="0.8"/>
<path d="M107.4,364.6 L111.42,366.69 L108.83,368.9 Z" fill="#222"/>
<text x="192.2" y="394.2" font-size="10.3" text-anchor="start" fill="#1a1a1a"  stroke="#1a1a1a" stroke-width="0.18">T</text>
<text x="196.3" y="398.2" font-size="6.6" text-anchor="start" fill="#1a1a1a"  stroke="#1a1a1a" stroke-width="0.18">m</text>
<text x="203" y="389.5" font-size="6.6" text-anchor="start" fill="#1a1a1a"  stroke="#1a1a1a" stroke-width="0.18">onset</text>
<text x="218" y="394.3" font-size="10.1" text-anchor="start" fill="#1a1a1a"  stroke="#1a1a1a" stroke-width="0.18">: 688.5</text>
<line x1="197.5" y1="396.5" x2="191.39" y2="402.95" stroke="#222" stroke-width="0.8"/>
<path d="M188.5,406 L190.15,401.78 L192.62,404.12 Z" fill="#222"/>
<text x="208.5" y="427" font-size="10.3" text-anchor="start" fill="#1a1a1a"  stroke="#1a1a1a" stroke-width="0.18">T</text>
<text x="213.2" y="431" font-size="6.6" text-anchor="start" fill="#1a1a1a"  stroke="#1a1a1a" stroke-width="0.18">m</text>
<text x="219.4" y="422.4" font-size="6.6" text-anchor="start" fill="#1a1a1a"  stroke="#1a1a1a" stroke-width="0.18">onset</text>
<text x="234.4" y="427.2" font-size="10.1" text-anchor="start" fill="#1a1a1a"  stroke="#1a1a1a" stroke-width="0.18">: 689.8</text>
<line x1="204.2" y1="420.3" x2="198.69" y2="417.31" stroke="#222" stroke-width="0.8"/>
<path d="M195,415.3 L199.5,415.81 L197.88,418.8 Z" fill="#222"/>
<text x="8.1" y="254.9" font-size="17.5" text-anchor="start" fill="#111"  stroke="#111" stroke-width="0.18">(c)</text>
<text transform="translate(19.5,362.7) rotate(-90)" font-size="9.5" text-anchor="middle" fill="#1a1a1a" stroke="#1a1a1a" stroke-width="0.18">DSC (mw/mg)</text>
<text x="146.5" y="488.8" font-size="10.2" fill="#1a1a1a" stroke="#1a1a1a" stroke-width="0.18">Temperature/<tspan font-size="6.6" dy="-4.3">o</tspan><tspan dy="4.3">C</tspan></text>
<line x1="398.3" y1="443.6" x2="398.3" y2="440.1" stroke="#333" stroke-width="0.9"/>
<line x1="424.62" y1="443.6" x2="424.62" y2="441.6" stroke="#333" stroke-width="0.9"/>
<line x1="450.93" y1="443.6" x2="450.93" y2="440.1" stroke="#333" stroke-width="0.9"/>
<line x1="477.25" y1="443.6" x2="477.25" y2="441.6" stroke="#333" stroke-width="0.9"/>
<line x1="503.56" y1="443.6" x2="503.56" y2="440.1" stroke="#333" stroke-width="0.9"/>
<line x1="529.88" y1="443.6" x2="529.88" y2="441.6" stroke="#333" stroke-width="0.9"/>
<line x1="556.19" y1="443.6" x2="556.19" y2="440.1" stroke="#333" stroke-width="0.9"/>
<line x1="582.5" y1="443.6" x2="582.5" y2="441.6" stroke="#333" stroke-width="0.9"/>
<line x1="608.82" y1="443.6" x2="608.82" y2="440.1" stroke="#333" stroke-width="0.9"/>
<line x1="635.13" y1="443.6" x2="635.13" y2="441.6" stroke="#333" stroke-width="0.9"/>
<line x1="661.45" y1="443.6" x2="661.45" y2="440.1" stroke="#333" stroke-width="0.9"/>
<line x1="398.3" y1="443.67" x2="400.1" y2="443.67" stroke="#333" stroke-width="0.9"/>
<line x1="398.3" y1="435.6" x2="401.7" y2="435.6" stroke="#333" stroke-width="0.9"/>
<line x1="398.3" y1="427.53" x2="400.1" y2="427.53" stroke="#333" stroke-width="0.9"/>
<line x1="398.3" y1="419.46" x2="401.7" y2="419.46" stroke="#333" stroke-width="0.9"/>
<line x1="398.3" y1="411.39" x2="400.1" y2="411.39" stroke="#333" stroke-width="0.9"/>
<line x1="398.3" y1="403.32" x2="401.7" y2="403.32" stroke="#333" stroke-width="0.9"/>
<line x1="398.3" y1="395.25" x2="400.1" y2="395.25" stroke="#333" stroke-width="0.9"/>
<line x1="398.3" y1="387.18" x2="401.7" y2="387.18" stroke="#333" stroke-width="0.9"/>
<line x1="398.3" y1="379.11" x2="400.1" y2="379.11" stroke="#333" stroke-width="0.9"/>
<line x1="398.3" y1="371.04" x2="401.7" y2="371.04" stroke="#333" stroke-width="0.9"/>
<line x1="398.3" y1="362.97" x2="400.1" y2="362.97" stroke="#333" stroke-width="0.9"/>
<line x1="398.3" y1="354.9" x2="401.7" y2="354.9" stroke="#333" stroke-width="0.9"/>
<line x1="398.3" y1="346.83" x2="400.1" y2="346.83" stroke="#333" stroke-width="0.9"/>
<line x1="398.3" y1="338.76" x2="401.7" y2="338.76" stroke="#333" stroke-width="0.9"/>
<line x1="398.3" y1="330.69" x2="400.1" y2="330.69" stroke="#333" stroke-width="0.9"/>
<line x1="398.3" y1="322.62" x2="401.7" y2="322.62" stroke="#333" stroke-width="0.9"/>
<line x1="398.3" y1="314.55" x2="400.1" y2="314.55" stroke="#333" stroke-width="0.9"/>
<line x1="398.3" y1="306.48" x2="401.7" y2="306.48" stroke="#333" stroke-width="0.9"/>
<line x1="398.3" y1="298.41" x2="400.1" y2="298.41" stroke="#333" stroke-width="0.9"/>
<line x1="398.3" y1="290.34" x2="401.7" y2="290.34" stroke="#333" stroke-width="0.9"/>
<line x1="398.3" y1="282.27" x2="400.1" y2="282.27" stroke="#333" stroke-width="0.9"/>
<line x1="398.3" y1="274.2" x2="401.7" y2="274.2" stroke="#333" stroke-width="0.9"/>
<line x1="398.3" y1="266.13" x2="400.1" y2="266.13" stroke="#333" stroke-width="0.9"/>
<line x1="398.3" y1="258.06" x2="401.7" y2="258.06" stroke="#333" stroke-width="0.9"/>
<line x1="398.3" y1="249.99" x2="400.1" y2="249.99" stroke="#333" stroke-width="0.9"/>
<text x="398.3" y="455.9" font-size="9.9" text-anchor="middle" fill="#1a1a1a"  stroke="#1a1a1a" stroke-width="0.18">0</text>
<text x="450.93" y="455.9" font-size="9.9" text-anchor="middle" fill="#1a1a1a"  stroke="#1a1a1a" stroke-width="0.18">10</text>
<text x="503.56" y="455.9" font-size="9.9" text-anchor="middle" fill="#1a1a1a"  stroke="#1a1a1a" stroke-width="0.18">20</text>
<text x="556.19" y="455.9" font-size="9.9" text-anchor="middle" fill="#1a1a1a"  stroke="#1a1a1a" stroke-width="0.18">30</text>
<text x="608.82" y="455.9" font-size="9.9" text-anchor="middle" fill="#1a1a1a"  stroke="#1a1a1a" stroke-width="0.18">40</text>
<text x="661.45" y="455.9" font-size="9.9" text-anchor="middle" fill="#1a1a1a"  stroke="#1a1a1a" stroke-width="0.18">50</text>
<text x="393.8" y="438.1" font-size="9.9" text-anchor="end" fill="#1a1a1a"  stroke="#1a1a1a" stroke-width="0.18">30</text>
<text x="393.8" y="421.96" font-size="9.9" text-anchor="end" fill="#1a1a1a"  stroke="#1a1a1a" stroke-width="0.18">32</text>
<text x="393.8" y="405.82" font-size="9.9" text-anchor="end" fill="#1a1a1a"  stroke="#1a1a1a" stroke-width="0.18">34</text>
<text x="393.8" y="389.68" font-size="9.9" text-anchor="end" fill="#1a1a1a"  stroke="#1a1a1a" stroke-width="0.18">36</text>
<text x="393.8" y="373.54" font-size="9.9" text-anchor="end" fill="#1a1a1a"  stroke="#1a1a1a" stroke-width="0.18">38</text>
<text x="393.8" y="357.4" font-size="9.9" text-anchor="end" fill="#1a1a1a"  stroke="#1a1a1a" stroke-width="0.18">40</text>
<text x="393.8" y="341.26" font-size="9.9" text-anchor="end" fill="#1a1a1a"  stroke="#1a1a1a" stroke-width="0.18">42</text>
<text x="393.8" y="325.12" font-size="9.9" text-anchor="end" fill="#1a1a1a"  stroke="#1a1a1a" stroke-width="0.18">44</text>
<text x="393.8" y="308.98" font-size="9.9" text-anchor="end" fill="#1a1a1a"  stroke="#1a1a1a" stroke-width="0.18">46</text>
<text x="393.8" y="292.84" font-size="9.9" text-anchor="end" fill="#1a1a1a"  stroke="#1a1a1a" stroke-width="0.18">48</text>
<text x="393.8" y="276.7" font-size="9.9" text-anchor="end" fill="#1a1a1a"  stroke="#1a1a1a" stroke-width="0.18">50</text>
<text x="393.8" y="260.56" font-size="9.9" text-anchor="end" fill="#1a1a1a"  stroke="#1a1a1a" stroke-width="0.18">52</text>
<polyline points="424.62,358.69 503.56,325.85 635.13,286.87" fill="none" stroke="#333" stroke-width="1"/>
<line x1="424.62" y1="368.3" x2="424.62" y2="349.25" stroke="#333" stroke-width="1"/>
<line x1="422.42" y1="368.3" x2="426.81" y2="368.3" stroke="#333" stroke-width="1"/>
<line x1="422.42" y1="349.25" x2="426.81" y2="349.25" stroke="#333" stroke-width="1"/>
<line x1="503.56" y1="338.76" x2="503.56" y2="312.94" stroke="#333" stroke-width="1"/>
<line x1="501.36" y1="338.76" x2="505.76" y2="338.76" stroke="#333" stroke-width="1"/>
<line x1="501.36" y1="312.94" x2="505.76" y2="312.94" stroke="#333" stroke-width="1"/>
<line x1="635.13" y1="313.42" x2="635.13" y2="260.48" stroke="#333" stroke-width="1"/>
<line x1="632.93" y1="313.42" x2="637.34" y2="313.42" stroke="#333" stroke-width="1"/>
<line x1="632.93" y1="260.48" x2="637.34" y2="260.48" stroke="#333" stroke-width="1"/>
<polyline points="424.62,414.78 503.56,341.99 635.13,329.24" fill="none" stroke="#3a3aff" stroke-width="1"/>
<line x1="424.62" y1="425.92" x2="424.62" y2="403.32" stroke="#2a2aff" stroke-width="1"/>
<line x1="422.42" y1="425.92" x2="426.81" y2="425.92" stroke="#2a2aff" stroke-width="1"/>
<line x1="422.42" y1="403.32" x2="426.81" y2="403.32" stroke="#2a2aff" stroke-width="1"/>
<line x1="503.56" y1="364.58" x2="503.56" y2="319.39" stroke="#2a2aff" stroke-width="1"/>
<line x1="501.36" y1="364.58" x2="505.76" y2="364.58" stroke="#2a2aff" stroke-width="1"/>
<line x1="501.36" y1="319.39" x2="505.76" y2="319.39" stroke="#2a2aff" stroke-width="1"/>
<line x1="635.13" y1="357.32" x2="635.13" y2="300.83" stroke="#2a2aff" stroke-width="1"/>
<line x1="632.93" y1="357.32" x2="637.34" y2="357.32" stroke="#2a2aff" stroke-width="1"/>
<line x1="632.93" y1="300.83" x2="637.34" y2="300.83" stroke="#2a2aff" stroke-width="1"/>
<rect x="421.62" y="355.69" width="6" height="6" fill="#000"/>
<rect x="500.56" y="322.85" width="6" height="6" fill="#000"/>
<rect x="632.13" y="283.87" width="6" height="6" fill="#000"/>
<circle cx="424.62" cy="414.78" r="3.3" fill="#0000ff"/>
<circle cx="503.56" cy="341.99" r="3.3" fill="#0000ff"/>
<circle cx="635.13" cy="329.24" r="3.3" fill="#0000ff"/>
<line x1="398" y1="249.9" x2="661.9" y2="249.9" stroke="#777" stroke-width="1.5" stroke-linecap="square"/>
<line x1="661.9" y1="249.9" x2="661.9" y2="443.65" stroke="#777" stroke-width="1.6" stroke-linecap="square"/>
<line x1="398" y1="443.65" x2="661.9" y2="443.65" stroke="#5a5a5a" stroke-width="1.3" stroke-linecap="square"/>
<line x1="398" y1="249.9" x2="398" y2="443.65" stroke="#8a8a8a" stroke-width="1.6" stroke-linecap="square"/>
<line x1="538.2" y1="416.8" x2="562.9" y2="416.8" stroke="#aaa" stroke-width="1.9"/>
<rect x="547.8" y="414.1" width="5.5" height="5.5" fill="#000"/>
<line x1="538.2" y1="428.6" x2="562.9" y2="428.6" stroke="#3a3aff" stroke-width="1"/>
<circle cx="550.9" cy="428.6" r="3.2" fill="#0000ff"/>
<text x="565.9" y="420.5" font-size="9.6" text-anchor="start" fill="#1a1a1a"  stroke="#1a1a1a" stroke-width="0.18">without grain refiner</text>
<text x="565.9" y="432.3" font-size="9.6" fill="#1a1a1a" stroke="#1a1a1a" stroke-width="0.18">with modified AlB<tspan font-size="6.4" dy="2.6">2</tspan></text>
<text x="408.2" y="260.4" font-size="9.5" fill="#1a1a1a" stroke="#1a1a1a" stroke-width="0.18">Al<tspan font-size="6.3" dy="2.5">15</tspan><tspan dy="-2.5">(Fe,Mn)</tspan><tspan font-size="6.3" dy="2.5">3</tspan><tspan dy="-2.5">Si</tspan><tspan font-size="6.3" dy="2.5">2</tspan><tspan dy="-2.5"> in Al-5Mg-2Si-1.0Mn-1.2Fe alloy</tspan></text>
<text x="352.2" y="260.1" font-size="17" text-anchor="start" fill="#111"  stroke="#111" stroke-width="0.18">(d)</text>
<text transform="translate(370.4,373.6) rotate(-90)" font-size="10.1" text-anchor="middle" fill="#1a1a1a" stroke="#1a1a1a" stroke-width="0.18">Nucleation undercooling (K)</text>
<text x="541" y="471.2" font-size="10.5" text-anchor="middle" fill="#222"  stroke="#222" stroke-width="0.18">Heating/Cooling rate (K/min)</text>
</svg>
</body></html>
